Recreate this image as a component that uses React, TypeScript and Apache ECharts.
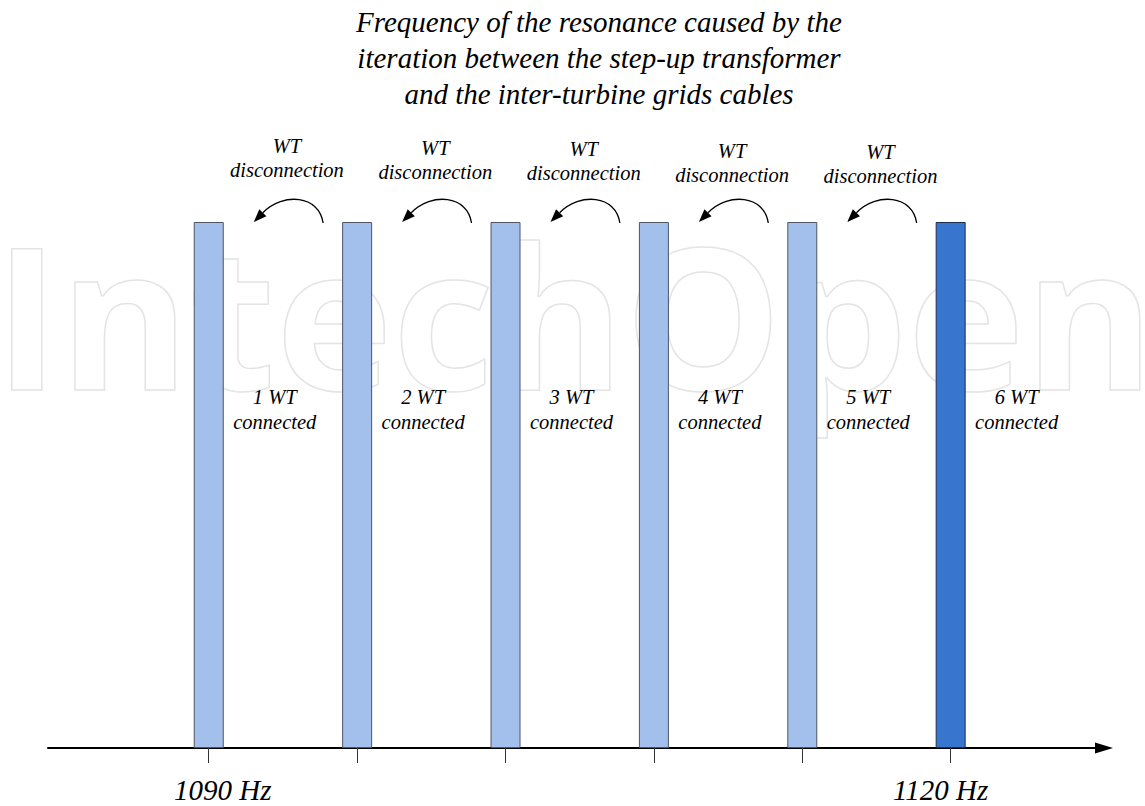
import React, { useEffect, useRef } from "react";
import * as echarts from "echarts";

// Resonance frequency (Hz) for 1..6 wind turbines connected
const frequencies = [1090, 1096, 1102, 1108, 1114, 1120];
// Schematic bar heights (equal, unitless)
const barHeights = [1, 1, 1, 1, 1, 1];
const connectedLabels = [
  "1 WT\nconnected",
  "2 WT\nconnected",
  "3 WT\nconnected",
  "4 WT\nconnected",
  "5 WT\nconnected",
  "6 WT\nconnected",
];
const tickValues = [1090, 1096, 1102, 1108, 1114, 1120];
const labeledTicks = [1090, 1120];
const titleLines = [
  "Frequency of the resonance caused by the",
  "iteration between the step-up transformer",
  "and the inter-turbine grids cables",
];
const arrowLabel = "WT\ndisconnection";
const activeIndex = 5;

const serif = "Liberation Serif";

export default function App() {
  const ref = useRef<HTMLDivElement>(null);

  useEffect(() => {
    if (!ref.current) return;
    const chart = echarts.init(ref.current, undefined, { renderer: "svg" });

    const labelFont = {
      fontSize: 29,
      fontStyle: "italic" as const,
      fontFamily: serif,
      color: "#000",
    };

    chart.setOption({
      animation: false,
      backgroundColor: "#ffffff",
      grid: { left: 48, right: 41, top: 222, bottom: 58 },
      xAxis: {
        type: "value",
        min: 1083.5,
        max: 1126.2,
        splitLine: { show: false },
        axisLine: {
          show: true,
          onZero: false,
          lineStyle: { color: "#000", width: 2 },
          symbol: ["none", "triangle"],
          symbolSize: [11, 18],
        },
        axisTick: {
          show: true,
          customValues: tickValues,
          length: 15,
          lineStyle: { color: "#333", width: 1 },
        },
        axisLabel: {
          show: true,
          customValues: labeledTicks,
          margin: 27,
          ...labelFont,
          formatter: (v: number) =>
            v === labeledTicks[0] ? `{l|${v} Hz}` : `{r|${v} Hz}`,
          rich: {
            l: { ...labelFont, padding: [0, 0, 0, 28] },
            r: { ...labelFont, padding: [0, 20, 0, 0] },
          },
        },
      },
      yAxis: { type: "value", min: 0, max: 1, show: false },
      series: [
        {
          type: "bar",
          barWidth: 30,
          data: frequencies.map((f, i) => ({
            value: [f, barHeights[i]],
            itemStyle:
              i === activeIndex
                ? { color: "#3775cf", borderColor: "#1c2d50", borderWidth: 1 }
                : { color: "#a2c0eb", borderColor: "#4d5566", borderWidth: 1 },
          })),
          label: {
            show: true,
            position: "inside",
            offset: [66, -76],
            formatter: (p: any) => connectedLabels[p.dataIndex],
            fontSize: 20.5,
            fontStyle: "italic",
            fontFamily: serif,
            lineHeight: 25,
            color: "#000",
            textBorderWidth: 0,
          },
        },
      ],
    });

    const px = frequencies.map(
      (f, i) => chart.convertToPixel({ gridIndex: 0 }, [f, barHeights[i]]) as number[]
    );

    const graphics: any[] = [];
    // watermark
    graphics.push({
      type: "text",
      silent: true,
      z: -10,
      x: -6,
      y: 313,
      style: {
        text: "IntechOpen",
        fontSize: 198,
        fontWeight: "bold",
        fontFamily: "Open Sans",
        fill: "rgba(255,255,255,0)",
        stroke: "#e4e4e4",
        lineWidth: 1.5,
        verticalAlign: "middle",
        align: "left",
      },
    });
    // title
    graphics.push({
      type: "text",
      x: 599,
      y: 4,
      style: {
        text: titleLines.join("\n"),
        fontSize: 29,
        fontStyle: "italic",
        fontFamily: serif,
        lineHeight: 36,
        fill: "#000",
        align: "center",
        verticalAlign: "top",
      },
    });

    for (let i = 0; i < px.length - 1; i++) {
      const L = px[i];
      const R = px[i + 1];
      const topY = L[1];
      const mid = (L[0] + R[0]) / 2;
      graphics.push({
        type: "text",
        x: mid + 4,
        y: 134 + i * 1.5,
        style: {
          text: arrowLabel,
          fontSize: 20.5,
          fontStyle: "italic",
          fontFamily: serif,
          lineHeight: 24,
          fill: "#000",
          align: "center",
          verticalAlign: "top",
        },
      });
      const S = [R[0] - 34, topY + 1];
      const T = [L[0] + 45, topY];
      const cp1 = [S[0] - 4, S[1] - 28];
      const cp2 = [T[0] + 29.5, T[1] - 30];
      const dx = T[0] - cp2[0];
      const dy = T[1] - cp2[1];
      const len = Math.hypot(dx, dy);
      const ux = dx / len;
      const uy = dy / len;
      const head = 13;
      const half = 5;
      const B = [T[0] - head * ux, T[1] - head * uy];
      const nx = -uy;
      const ny = ux;
      graphics.push({
        type: "bezierCurve",
        shape: {
          x1: S[0],
          y1: S[1],
          cpx1: cp1[0],
          cpy1: cp1[1],
          cpx2: cp2[0],
          cpy2: cp2[1],
          x2: B[0],
          y2: B[1],
        },
        style: { stroke: "#000", lineWidth: 1.3, fill: null },
      });
      graphics.push({
        type: "polygon",
        shape: {
          points: [
            [T[0], T[1]],
            [B[0] + half * nx, B[1] + half * ny],
            [B[0] - half * nx, B[1] - half * ny],
          ],
        },
        style: { fill: "#000" },
      });
    }

    chart.setOption({ graphic: graphics });

    return () => chart.dispose();
  }, []);

  return (
    <div
      ref={ref}
      style={{ position: "absolute", left: 0, top: 0, width: 1145, height: 806 }}
    />
  );
}
